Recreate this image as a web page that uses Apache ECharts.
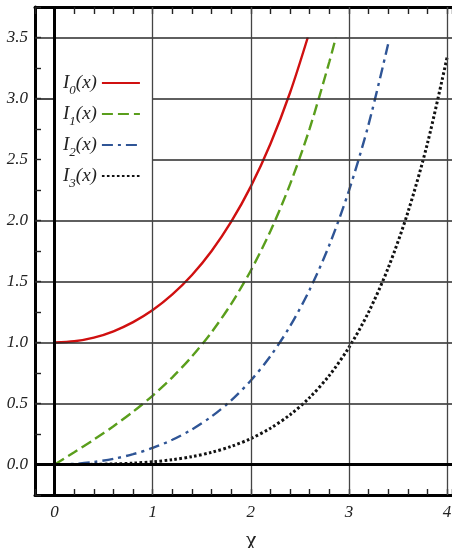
<!DOCTYPE html>
<html>
<head>
<meta charset="utf-8">
<script src="https://cdn.jsdelivr.net/npm/echarts@6/dist/echarts.min.js"></script>
<style>
  html, body { margin: 0; padding: 0; background: #fff; }
  #chart { width: 452px; height: 548px; }
</style>
</head>
<body>
<div id="chart"></div>
<script>
// ---- data ----
const seriesNames = ['I0(x)', 'I1(x)', 'I2(x)', 'I3(x)'];
const subscripts = ['0', '1', '2', '3'];

const x0 = [0, 0.2, 0.4, 0.6, 0.8, 1.0, 1.2, 1.4, 1.6, 1.8, 2.0, 2.2, 2.4, 2.58];
const I0 = [1.000, 1.010, 1.040, 1.092, 1.167, 1.266, 1.394, 1.553, 1.750, 1.990, 2.280, 2.629, 3.049, 3.500];

const x1 = [0, 0.2, 0.4, 0.6, 0.8, 1.0, 1.2, 1.4, 1.6, 1.8, 2.0, 2.2, 2.4, 2.6, 2.8, 2.866];
const I1 = [0, 0.1005, 0.2040, 0.3137, 0.4329, 0.5652, 0.7147, 0.8861, 1.0848, 1.3172, 1.5906, 1.9141, 2.2981, 2.7554, 3.3011, 3.500];

const x2 = [0, 0.2, 0.4, 0.6, 0.8, 1.0, 1.2, 1.4, 1.6, 1.8, 2.0, 2.2, 2.4, 2.6, 2.8, 3.0, 3.2, 3.4];
const I2 = [0, 0.0050, 0.0203, 0.0464, 0.0844, 0.1357, 0.2026, 0.2876, 0.3940, 0.5260, 0.6890, 0.8891, 1.1342, 1.4338, 1.7994, 2.2452, 2.7883, 3.4495];

const x3 = [0, 0.2, 0.4, 0.6, 0.8, 1.0, 1.2, 1.4, 1.6, 1.8, 2.0, 2.2, 2.4, 2.6, 2.8, 3.0, 3.2, 3.4, 3.6, 3.8, 4.0];
const I3 = [0, 0.0002, 0.0013, 0.0046, 0.0111, 0.0222, 0.0394, 0.0645, 0.0999, 0.1482, 0.2127, 0.2976, 0.4079, 0.5496, 0.7305, 0.9600, 1.2489, 1.6119, 2.0661, 2.6326, 3.3373];

// axis ranges / ticks
const xMin = -0.2, xMax = 4.05, xTick = 0.2;
const yMin = -0.25, yMax = 3.75, yTick = 0.25;
const xGridValues = [1, 2, 3, 4];
// horizontal grid segments [y, xFrom, xTo] (the legend box hides parts)
const hGrid = [
  [0.5, -0.2, 4.05], [1.0, -0.2, 4.05], [1.5, -0.2, 4.05], [2.0, -0.2, 4.05],
  [2.5, 1, 4.05], [3.0, -0.2, 0], [3.0, 1, 4.05], [3.5, -0.2, 4.05]
];

const serifFont = '"Liberation Serif", "DejaVu Serif", serif';
const colors = ['#d01010', '#5a9e1c', '#2f5596', '#111111'];
const dashes = ['solid', [11, 5], [11, 5, 3, 5], [2.6, 2.4]];
const widths = [2.4, 2.4, 2.4, 3];

function zip(xs, ys) { return xs.map((x, i) => [x, ys[i]]); }
const curves = [zip(x0, I0), zip(x1, I1), zip(x2, I2), zip(x3, I3)];

const gridLineStyle = { color: '#2a2a2a', width: 1.7, type: 'solid' };
const markData = [];
hGrid.forEach(([y, a, b]) => {
  markData.push([{ coord: [a, y], lineStyle: gridLineStyle }, { coord: [b, y] }]);
});
xGridValues.forEach(x => {
  markData.push([{ coord: [x, yMin], lineStyle: { color: '#444', width: 1.3, type: 'solid' } }, { coord: [x, yMax] }]);
});
markData.push([{ coord: [0, yMin], lineStyle: { color: '#000', width: 3, type: 'solid' } }, { coord: [0, yMax] }]);
markData.push([{ coord: [xMin, 0], lineStyle: { color: '#000', width: 3.2, type: 'solid' } }, { coord: [xMax, 0] }]);

function isNear(v, step) { return Math.abs(v / step - Math.round(v / step)) < 1e-6; }

const chart = echarts.init(document.getElementById('chart'), null, { renderer: 'canvas' });
chart.setOption({
  animation: false,
  backgroundColor: '#fff',
  grid: { left: 35, right: 0, top: 7, bottom: 53, show: false, containLabel: false, outerBoundsMode: 'none' },
  legend: {
    data: seriesNames,
    orient: 'vertical',
    left: 63, top: 72, padding: 0,
    align: 'right',
    itemWidth: 38, itemHeight: 14, itemGap: 6,
    itemStyle: { opacity: 0, borderWidth: 0 },
    formatter: function (name) {
      const i = seriesNames.indexOf(name);
      return '{a|I}{b|' + subscripts[i] + '}{a|(x)}';
    },
    textStyle: {
      rich: {
        a: { fontFamily: serifFont, fontStyle: 'italic', fontSize: 19, color: '#222', lineHeight: 22 },
        b: { fontFamily: serifFont, fontStyle: 'italic', fontSize: 13, color: '#222', verticalAlign: 'top', padding: [12, 0, 0, 0], lineHeight: 12 }
      }
    }
  },
  xAxis: [{
    type: 'value', min: xMin, max: xMax, interval: xTick, position: 'bottom',
    name: 'χ', nameLocation: 'middle', nameGap: 34,
    nameTextStyle: { fontFamily: serifFont, fontSize: 24, color: '#222', padding: [0, 0, 0, 15] },
    axisLine: { show: true, onZero: false, lineStyle: { color: '#000', width: 3 } },
    axisTick: { show: true, inside: true, length: 6, lineStyle: { color: '#222', width: 1.4 } },
    axisLabel: {
      margin: 9, fontFamily: serifFont, fontStyle: 'italic', fontSize: 17, color: '#222',
      formatter: v => isNear(v, 1) ? String(Math.round(v)) : ''
    },
    splitLine: { show: false }
  }, {
    type: 'value', min: xMin, max: xMax, interval: xTick, position: 'top',
    axisLine: { show: true, onZero: false, lineStyle: { color: '#000', width: 3 } },
    axisTick: { show: true, inside: true, length: 7, lineStyle: { color: '#222', width: 1.4 } },
    axisLabel: { show: false },
    splitLine: { show: false }
  }],
  yAxis: {
    type: 'value', min: yMin, max: yMax, interval: yTick,
    axisLine: { show: true, onZero: false, lineStyle: { color: '#000', width: 3 } },
    axisTick: { show: true, inside: true, length: 6, lineStyle: { color: '#222', width: 1.4 } },
    axisLabel: {
      margin: 7, fontFamily: serifFont, fontStyle: 'italic', fontSize: 17, color: '#222',
      formatter: v => (isNear(v, 0.5) && v > -0.01 && v < 3.6) ? v.toFixed(1) : ''
    },
    splitLine: { show: false }
  },
  series: [{
    name: 'grid', type: 'line', data: [], z: 1, silent: true,
    markLine: { silent: true, symbol: 'none', animation: false, label: { show: false }, data: markData }
  }].concat(seriesNames.map((n, i) => ({
    name: n, type: 'line', data: curves[i], z: 3,
    showSymbol: false, symbol: 'none', smooth: 0.3,
    color: colors[i],
    lineStyle: { color: colors[i], width: widths[i], type: dashes[i], cap: 'butt' }
  })))
});
</script>
</body>
</html>
